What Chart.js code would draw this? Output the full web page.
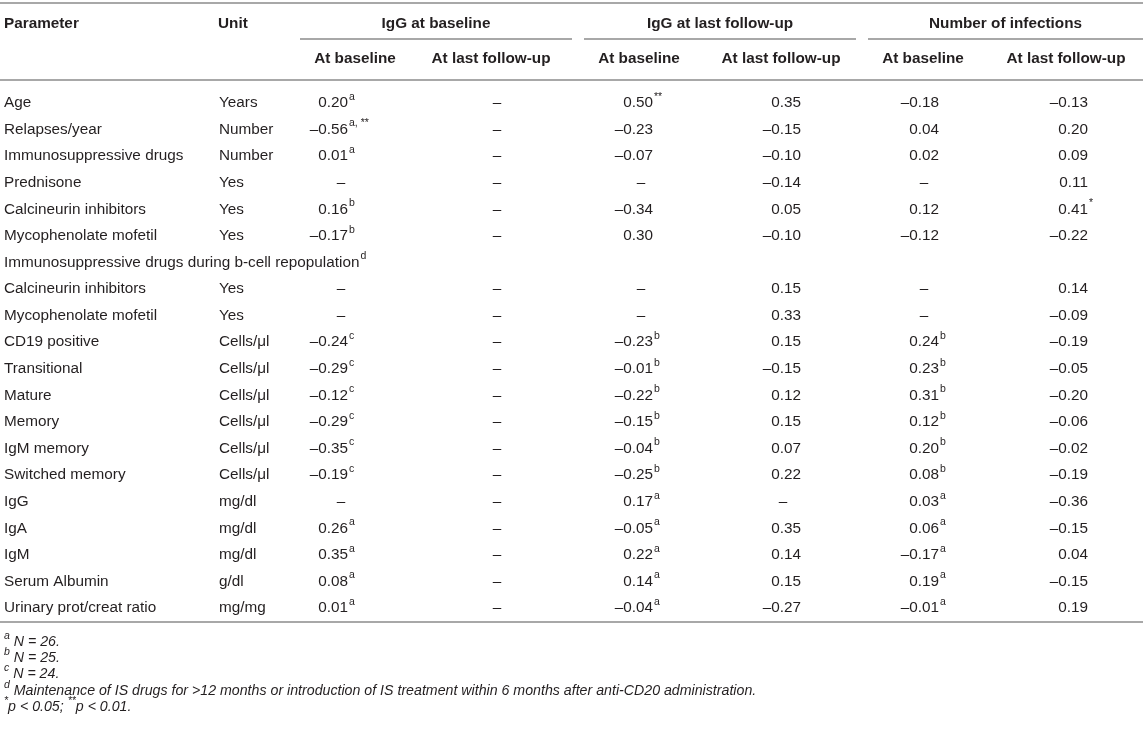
<!DOCTYPE html>
<html>
<head>
<meta charset="utf-8">
<script src="https://cdn.jsdelivr.net/npm/chart.js@4.4.0/dist/chart.umd.min.js"></script>
<style>
  html, body { margin: 0; padding: 0; background: #fff; }
  #wrap { width: 1143px; height: 734px; }
</style>
</head>
<body>
<div id="wrap"><canvas id="tbl" width="1143" height="734"></canvas></div>
<script>
// table content
const groups = ["IgG at baseline", "IgG at last follow-up", "Number of infections"];
const subHeads = ["At baseline", "At last follow-up", "At baseline", "At last follow-up", "At baseline", "At last follow-up"];

const parameters = ["Age", "Relapses/year", "Immunosuppressive drugs", "Prednisone", "Calcineurin inhibitors",
  "Mycophenolate mofetil", "Immunosuppressive drugs during b-cell repopulation", "Calcineurin inhibitors",
  "Mycophenolate mofetil", "CD19 positive", "Transitional", "Mature", "Memory", "IgM memory", "Switched memory",
  "IgG", "IgA", "IgM", "Serum Albumin", "Urinary prot/creat ratio"];
const paramSup = ["", "", "", "", "", "", "d", "", "", "", "", "", "", "", "", "", "", "", "", ""];
const units = ["Years", "Number", "Number", "Yes", "Yes", "Yes", "", "Yes", "Yes", "Cells/\u03bcl", "Cells/\u03bcl",
  "Cells/\u03bcl", "Cells/\u03bcl", "Cells/\u03bcl", "Cells/\u03bcl", "mg/dl", "mg/dl", "mg/dl", "g/dl", "mg/mg"];

// "–" = not applicable, "" = empty cell
const iggBaseAtBase = ["0.20", "–0.56", "0.01", "–", "0.16", "–0.17", "", "–", "–", "–0.24", "–0.29", "–0.12",
  "–0.29", "–0.35", "–0.19", "–", "0.26", "0.35", "0.08", "0.01"];
const iggBaseAtBaseSup = ["a", "a, **", "a", "", "b", "b", "", "", "", "c", "c", "c", "c", "c", "c", "", "a", "a", "a", "a"];
const iggBaseAtLast = ["–", "–", "–", "–", "–", "–", "", "–", "–", "–", "–", "–", "–", "–", "–", "–", "–", "–", "–", "–"];
const iggLastAtBase = ["0.50", "–0.23", "–0.07", "–", "–0.34", "0.30", "", "–", "–", "–0.23", "–0.01", "–0.22",
  "–0.15", "–0.04", "–0.25", "0.17", "–0.05", "0.22", "0.14", "–0.04"];
const iggLastAtBaseSup = ["**", "", "", "", "", "", "", "", "", "b", "b", "b", "b", "b", "b", "a", "a", "a", "a", "a"];
const iggLastAtLast = ["0.35", "–0.15", "–0.10", "–0.14", "0.05", "–0.10", "", "0.15", "0.33", "0.15", "–0.15", "0.12",
  "0.15", "0.07", "0.22", "–", "0.35", "0.14", "0.15", "–0.27"];
const infAtBase = ["–0.18", "0.04", "0.02", "–", "0.12", "–0.12", "", "–", "–", "0.24", "0.23", "0.31",
  "0.12", "0.20", "0.08", "0.03", "0.06", "–0.17", "0.19", "–0.01"];
const infAtBaseSup = ["", "", "", "", "", "", "", "", "", "b", "b", "b", "b", "b", "b", "a", "a", "a", "a", "a"];
const infAtLast = ["–0.13", "0.20", "0.09", "0.11", "0.41", "–0.22", "", "0.14", "–0.09", "–0.19", "–0.05", "–0.20",
  "–0.06", "–0.02", "–0.19", "–0.36", "–0.15", "0.04", "–0.15", "0.19"];
const infAtLastSup = ["", "", "", "", "*", "", "", "", "", "", "", "", "", "", "", "", "", "", "", ""];

const footnotes = [
  { sup: "a", text: " N = 26." },
  { sup: "b", text: " N = 25." },
  { sup: "c", text: " N = 24." },
  { sup: "d", text: " Maintenance of IS drugs for >12 months or introduction of IS treatment within 6 months after anti-CD20 administration." },
  { sup: "*", text: "p < 0.05; ", sup2: "**", text2: "p < 0.01." }
];

const valueCols = [
  { vals: iggBaseAtBase, sups: iggBaseAtBaseSup },
  { vals: iggBaseAtLast, sups: null },
  { vals: iggLastAtBase, sups: iggLastAtBaseSup },
  { vals: iggLastAtLast, sups: null },
  { vals: infAtBase, sups: infAtBaseSup },
  { vals: infAtLast, sups: infAtLastSup }
];

// layout (x / y in scale units = px)
const numRight = [348, 497, 653, 801, 939, 1088];
const dashX = [341, 497, 641, 783, 924, 1068];
const subCenter = [355, 491, 639, 781, 923, 1066];
const groupLines = [[300, 572], [584, 856], [868, 1143]];
const firstRowY = 103, rowStep = 26.58;

const INK = "#231f20";
const RULE = "#a8a8a8";
const FONT = "'Liberation Sans', Arial, sans-serif";
const BODY = "15.3px " + FONT;
const FOOT = "italic 14.2px " + FONT;

function supText(ctx, x, y, s, italic) {
  if (!s) return;
  ctx.save();
  ctx.font = (italic ? "italic " : "") + "10.5px " + FONT;
  ctx.textAlign = "left";
  ctx.fillText(s, x, y - 6);
  ctx.restore();
}

const tablePlugin = {
  id: "tablePlugin",
  afterDraw(chart) {
    const ctx = chart.ctx;
    const xs = chart.scales.x, ys = chart.scales.y;
    const X = v => xs.getPixelForValue(v);
    const Y = v => ys.getPixelForValue(v);

    ctx.save();
    ctx.fillStyle = INK;
    ctx.textBaseline = "middle";

    // rules
    ctx.strokeStyle = RULE;
    ctx.lineWidth = 2;
    const hline = (x1, x2, y) => { ctx.beginPath(); ctx.moveTo(X(x1), Y(y)); ctx.lineTo(X(x2), Y(y)); ctx.stroke(); };
    hline(0, 1143, 3);
    groupLines.forEach(g => hline(g[0], g[1], 39));
    hline(0, 1143, 80);
    hline(0, 1143, 622);

    // headers
    ctx.font = "bold 15.3px " + FONT;
    ctx.textAlign = "left";
    ctx.fillText("Parameter", X(4), Y(24));
    ctx.fillText("Unit", X(218), Y(24));
    ctx.textAlign = "center";
    groups.forEach((g, i) => ctx.fillText(g, X((groupLines[i][0] + groupLines[i][1]) / 2), Y(24)));
    subHeads.forEach((s, i) => ctx.fillText(s, X(subCenter[i]), Y(59)));

    // body
    ctx.font = BODY;
    parameters.forEach((p, r) => {
      const y = firstRowY + r * rowStep;
      ctx.textAlign = "left";
      ctx.fillText(p, X(4), Y(y));
      if (paramSup[r]) supText(ctx, X(4) + ctx.measureText(p).width + 1, Y(y), paramSup[r]);
      ctx.fillText(units[r], X(219), Y(y));

      valueCols.forEach((col, c) => {
        const v = col.vals[r];
        if (!v) return;
        if (v === "–") {
          ctx.textAlign = "center";
          ctx.fillText("–", X(dashX[c]), Y(y));
          return;
        }
        ctx.textAlign = "right";
        ctx.fillText(v, X(numRight[c]), Y(y));
        const s = col.sups ? col.sups[r] : "";
        if (s) supText(ctx, X(numRight[c]) + 1, Y(y), s);
      });
    });

    // footnotes
    footnotes.forEach((f, i) => {
      const y = Y(642 + i * 16.2);
      let x = X(4);
      ctx.textAlign = "left";
      supText(ctx, x, y, f.sup, true);
      ctx.font = "italic 10.5px " + FONT;
      x += ctx.measureText(f.sup).width;
      ctx.font = FOOT;
      ctx.fillText(f.text, x, y);
      x += ctx.measureText(f.text).width;
      if (f.sup2) {
        supText(ctx, x, y, f.sup2, true);
        ctx.font = "italic 10.5px " + FONT;
        x += ctx.measureText(f.sup2).width;
        ctx.font = FOOT;
        ctx.fillText(f.text2, x, y);
      }
    });
    ctx.restore();
  }
};

new Chart(document.getElementById("tbl"), {
  type: "scatter",
  data: { datasets: [] },
  options: {
    responsive: false,
    animation: false,
    layout: { padding: 0 },
    plugins: { legend: { display: false }, tooltip: { enabled: false } },
    scales: {
      x: { type: "linear", min: 0, max: 1143, display: false },
      y: { type: "linear", min: 0, max: 734, reverse: true, display: false }
    }
  },
  plugins: [tablePlugin]
});
</script>
</body>
</html>
